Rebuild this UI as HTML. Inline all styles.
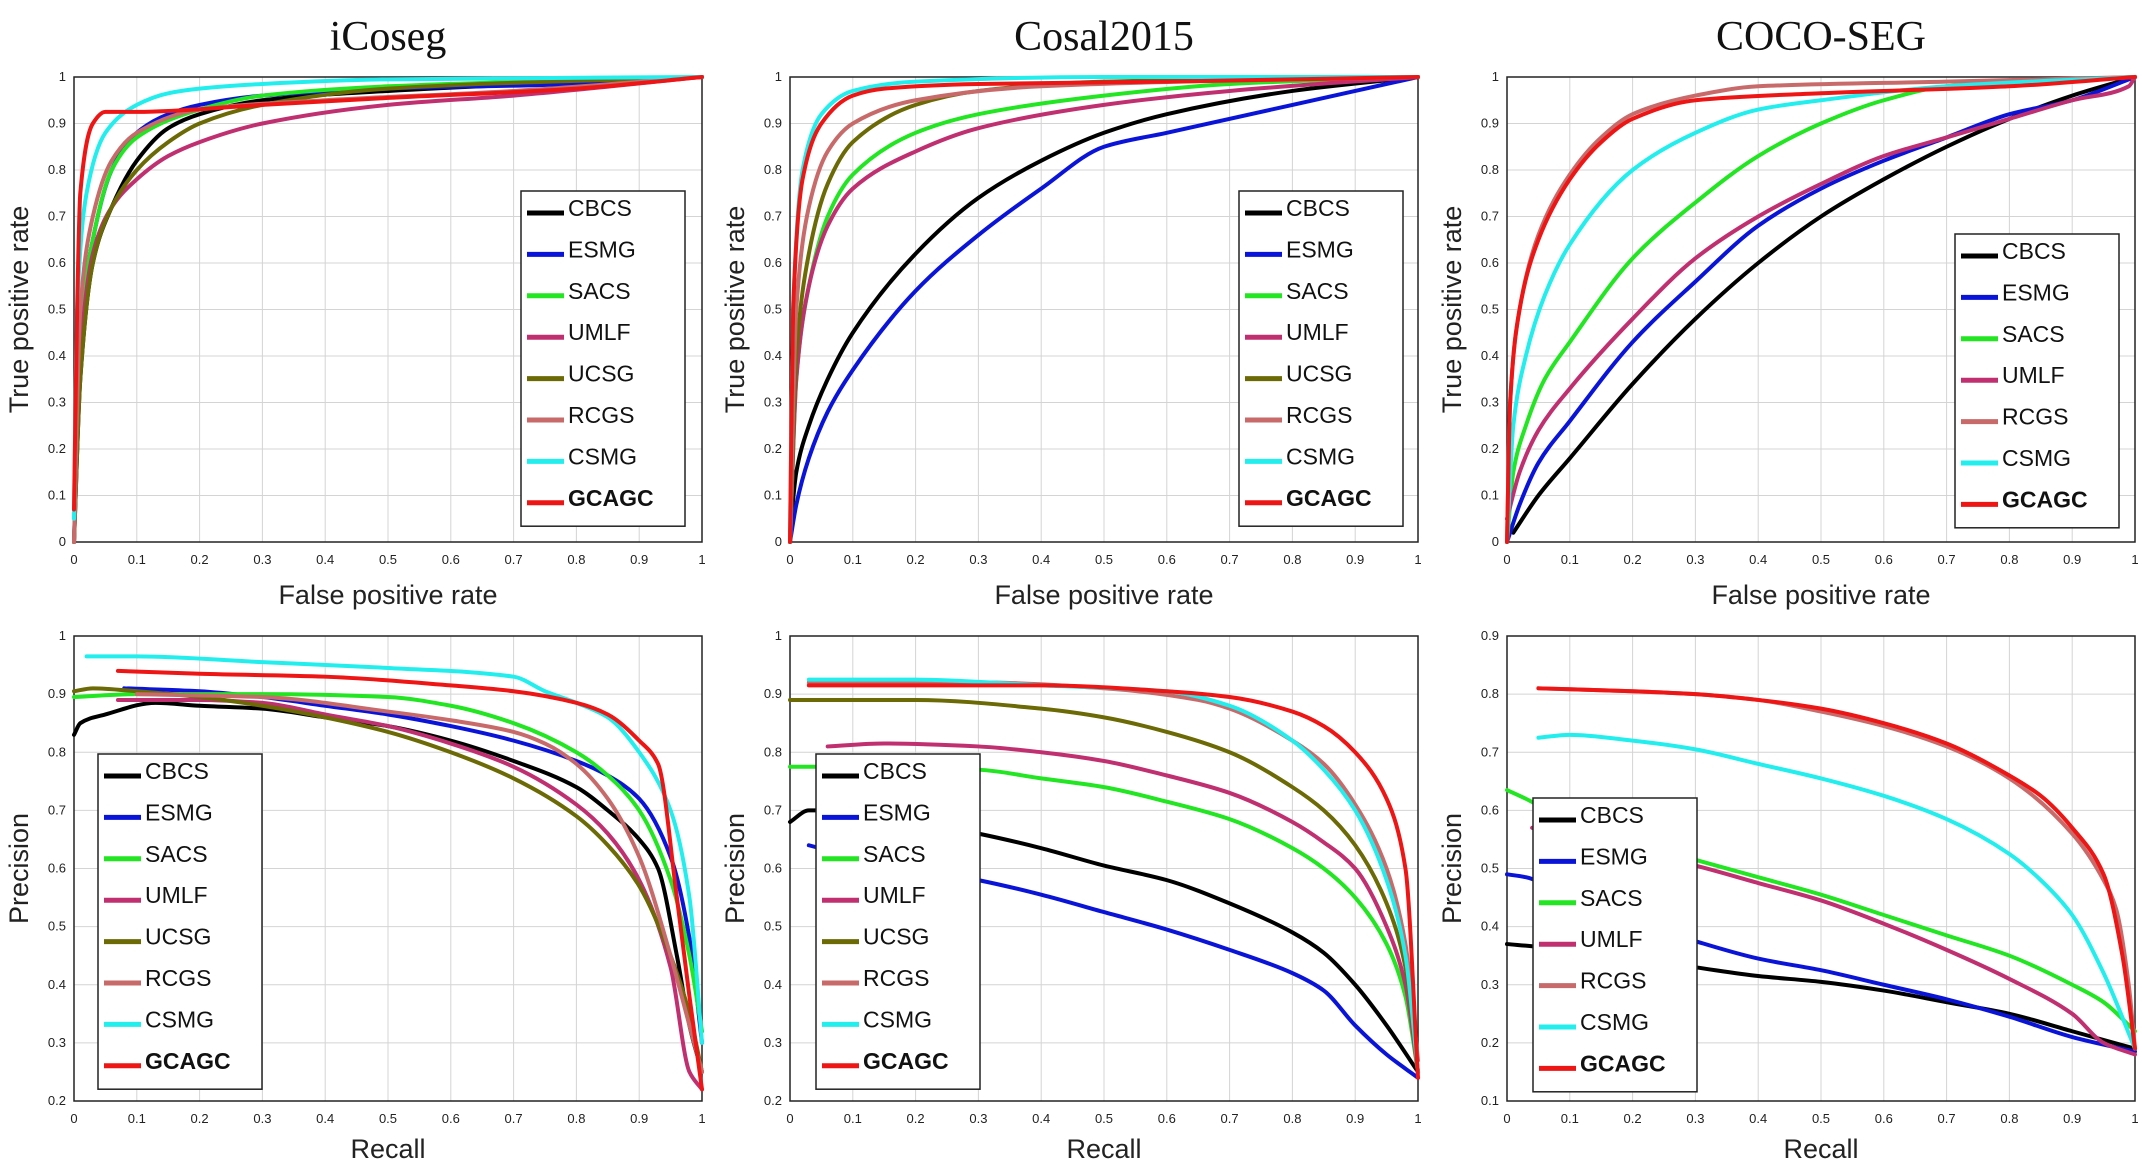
<!DOCTYPE html>
<html><head><meta charset="utf-8">
<style>
html,body{margin:0;padding:0;background:#fff;}
svg{display:block;}
</style></head>
<body>
<svg id="chart" width="2142" height="1176" xmlns="http://www.w3.org/2000/svg"></svg>
<script>
// ---------- DATA ----------
const methods = ["CBCS","ESMG","SACS","UMLF","UCSG","RCGS","CSMG","GCAGC"];
const methodColors = ["#000000","#0a14d8","#22e622","#c03070","#6b6a05","#c86a6a","#22eeee","#ee1515"];
const titles = ["iCoseg","Cosal2015","COCO-SEG"];
const xTicks = [0,0.1,0.2,0.3,0.4,0.5,0.6,0.7,0.8,0.9,1];
const yTicksTop = [0,0.1,0.2,0.3,0.4,0.5,0.6,0.7,0.8,0.9,1];
const yTicksPRa = [0.2,0.3,0.4,0.5,0.6,0.7,0.8,0.9,1];
const yTicksPRc = [0.1,0.2,0.3,0.4,0.5,0.6,0.7,0.8,0.9];

// ROC iCoseg
const rocIcosegCBCS=[[0,0],[0.01,0.35],[0.03,0.6],[0.06,0.72],[0.1,0.82],[0.15,0.89],[0.2,0.92],[0.3,0.95],[0.5,0.97],[1,1]];
const rocIcosegESMG=[[0,0],[0.01,0.45],[0.03,0.65],[0.06,0.8],[0.1,0.88],[0.15,0.92],[0.2,0.94],[0.3,0.96],[0.5,0.975],[0.8,0.985],[1,1]];
const rocIcosegSACS=[[0,0],[0.01,0.45],[0.03,0.65],[0.06,0.8],[0.1,0.87],[0.2,0.93],[0.3,0.96],[0.5,0.98],[1,1]];
const rocIcosegUMLF=[[0,0],[0.01,0.4],[0.03,0.62],[0.06,0.72],[0.1,0.78],[0.15,0.83],[0.2,0.86],[0.3,0.9],[0.5,0.94],[0.7,0.96],[1,1]];
const rocIcosegUCSG=[[0,0],[0.01,0.35],[0.03,0.6],[0.06,0.72],[0.1,0.8],[0.15,0.86],[0.2,0.9],[0.3,0.94],[0.5,0.975],[1,1]];
const rocIcosegRCGS=[[0,0],[0.01,0.5],[0.03,0.7],[0.06,0.82],[0.1,0.88],[0.2,0.93],[0.4,0.95],[0.7,0.97],[1,1]];
const rocIcosegCSMG=[[0,0.05],[0.005,0.5],[0.02,0.75],[0.05,0.88],[0.1,0.94],[0.15,0.965],[0.2,0.975],[0.3,0.985],[0.5,0.995],[1,1]];
const rocIcosegGCAGC=[[0,0.07],[0.005,0.5],[0.01,0.75],[0.03,0.9],[0.05,0.925],[0.1,0.925],[0.3,0.94],[0.5,0.955],[0.8,0.975],[1,1]];
// ROC Cosal2015
const rocCosalCBCS=[[0,0.02],[0.01,0.15],[0.03,0.25],[0.06,0.35],[0.1,0.45],[0.2,0.62],[0.3,0.74],[0.4,0.82],[0.5,0.88],[0.6,0.92],[0.8,0.97],[1,1]];
const rocCosalESMG=[[0,0],[0.01,0.08],[0.03,0.18],[0.06,0.28],[0.1,0.37],[0.2,0.54],[0.3,0.66],[0.4,0.76],[0.5,0.85],[0.6,0.88],[0.8,0.94],[1,1]];
const rocCosalSACS=[[0,0],[0.01,0.35],[0.03,0.55],[0.06,0.7],[0.1,0.79],[0.2,0.88],[0.3,0.92],[0.5,0.96],[0.7,0.985],[1,1]];
const rocCosalUMLF=[[0,0],[0.01,0.35],[0.03,0.55],[0.06,0.68],[0.1,0.76],[0.2,0.84],[0.3,0.89],[0.5,0.94],[0.7,0.97],[1,1]];
const rocCosalUCSG=[[0,0],[0.01,0.4],[0.03,0.62],[0.06,0.77],[0.1,0.86],[0.2,0.94],[0.3,0.97],[0.5,0.99],[1,1]];
const rocCosalRCGS=[[0,0],[0.01,0.5],[0.03,0.72],[0.06,0.84],[0.1,0.9],[0.2,0.95],[0.4,0.98],[1,1]];
const rocCosalCSMG=[[0,0],[0.005,0.5],[0.02,0.8],[0.05,0.92],[0.1,0.97],[0.2,0.99],[0.5,1],[1,1]];
const rocCosalGCAGC=[[0,0],[0.005,0.5],[0.02,0.78],[0.05,0.9],[0.1,0.96],[0.15,0.975],[0.3,0.985],[0.6,0.99],[1,1]];
// ROC COCO-SEG
const rocCocoCBCS=[[0.01,0.02],[0.05,0.1],[0.1,0.18],[0.2,0.34],[0.3,0.48],[0.4,0.6],[0.5,0.7],[0.6,0.78],[0.7,0.85],[0.8,0.91],[0.9,0.96],[1,1]];
const rocCocoESMG=[[0,0],[0.02,0.08],[0.05,0.17],[0.1,0.26],[0.2,0.43],[0.3,0.56],[0.4,0.68],[0.5,0.76],[0.6,0.82],[0.7,0.87],[0.8,0.92],[0.9,0.95],[1,1]];
const rocCocoSACS=[[0,0],[0.01,0.15],[0.03,0.25],[0.06,0.35],[0.1,0.43],[0.2,0.61],[0.3,0.73],[0.4,0.83],[0.5,0.9],[0.6,0.95],[0.7,0.98],[1,1]];
const rocCocoUMLF=[[0,0.05],[0.02,0.15],[0.05,0.24],[0.1,0.33],[0.2,0.48],[0.3,0.61],[0.4,0.7],[0.5,0.77],[0.6,0.83],[0.7,0.87],[0.8,0.91],[0.9,0.95],[0.99,0.98],[1,1]];
const rocCocoRCGS=[[0,0],[0.005,0.3],[0.02,0.5],[0.05,0.66],[0.1,0.79],[0.15,0.87],[0.2,0.92],[0.3,0.96],[0.4,0.98],[0.7,0.99],[1,1]];
const rocCocoCSMG=[[0,0],[0.01,0.25],[0.03,0.4],[0.06,0.53],[0.1,0.64],[0.2,0.8],[0.3,0.88],[0.4,0.93],[0.5,0.95],[0.7,0.98],[1,1]];
const rocCocoGCAGC=[[0,0],[0.005,0.3],[0.02,0.5],[0.05,0.65],[0.1,0.78],[0.15,0.86],[0.2,0.91],[0.3,0.95],[0.5,0.965],[0.8,0.98],[1,1]];
// PR iCoseg
const prIcosegCBCS=[[0,0.83],[0.01,0.85],[0.05,0.865],[0.13,0.885],[0.2,0.88],[0.3,0.875],[0.4,0.86],[0.5,0.845],[0.6,0.82],[0.7,0.785],[0.8,0.74],[0.85,0.7],[0.9,0.65],[0.93,0.6],[0.96,0.45],[0.98,0.33],[1,0.25]];
const prIcosegESMG=[[0.08,0.91],[0.2,0.905],[0.3,0.895],[0.4,0.88],[0.5,0.865],[0.6,0.845],[0.7,0.82],[0.8,0.785],[0.85,0.76],[0.9,0.72],[0.95,0.62],[0.98,0.48],[1,0.3]];
const prIcosegSACS=[[0,0.895],[0.1,0.9],[0.3,0.9],[0.5,0.895],[0.6,0.88],[0.7,0.85],[0.8,0.8],[0.85,0.76],[0.9,0.7],[0.95,0.58],[0.98,0.45],[1,0.32]];
const prIcosegUMLF=[[0.07,0.89],[0.2,0.89],[0.3,0.885],[0.4,0.865],[0.5,0.845],[0.6,0.815],[0.7,0.775],[0.8,0.71],[0.85,0.66],[0.9,0.58],[0.95,0.43],[0.98,0.25],[1,0.22]];
const prIcosegUCSG=[[0,0.905],[0.03,0.91],[0.1,0.905],[0.2,0.895],[0.3,0.88],[0.4,0.86],[0.5,0.835],[0.6,0.8],[0.7,0.755],[0.8,0.69],[0.85,0.64],[0.9,0.57],[0.95,0.45],[0.98,0.35],[1,0.25]];
const prIcosegRCGS=[[0.1,0.9],[0.3,0.895],[0.5,0.87],[0.6,0.855],[0.7,0.835],[0.75,0.815],[0.8,0.78],[0.85,0.72],[0.9,0.62],[0.95,0.45],[0.98,0.33],[1,0.25]];
const prIcosegCSMG=[[0.02,0.965],[0.1,0.965],[0.3,0.955],[0.5,0.945],[0.7,0.93],[0.75,0.905],[0.8,0.885],[0.85,0.86],[0.9,0.8],[0.95,0.7],[0.98,0.55],[1,0.3]];
const prIcosegGCAGC=[[0.07,0.94],[0.2,0.935],[0.4,0.93],[0.6,0.915],[0.7,0.905],[0.8,0.885],[0.85,0.865],[0.9,0.82],[0.93,0.78],[0.96,0.55],[0.98,0.38],[1,0.22]];
// PR Cosal2015
const prCosalCBCS=[[0,0.68],[0.03,0.7],[0.1,0.7],[0.2,0.68],[0.3,0.66],[0.4,0.635],[0.5,0.605],[0.6,0.58],[0.7,0.54],[0.8,0.49],[0.85,0.455],[0.9,0.4],[0.95,0.33],[1,0.25]];
const prCosalESMG=[[0.03,0.64],[0.1,0.62],[0.2,0.6],[0.3,0.58],[0.4,0.555],[0.5,0.525],[0.6,0.495],[0.7,0.46],[0.8,0.42],[0.85,0.39],[0.9,0.33],[0.95,0.28],[1,0.24]];
const prCosalSACS=[[0,0.775],[0.1,0.775],[0.3,0.77],[0.4,0.755],[0.5,0.74],[0.6,0.715],[0.7,0.685],[0.8,0.635],[0.85,0.6],[0.9,0.55],[0.95,0.47],[0.98,0.38],[1,0.25]];
const prCosalUMLF=[[0.06,0.81],[0.15,0.815],[0.3,0.81],[0.4,0.8],[0.5,0.785],[0.6,0.76],[0.7,0.73],[0.8,0.68],[0.85,0.645],[0.9,0.6],[0.95,0.5],[0.98,0.4],[1,0.25]];
const prCosalUCSG=[[0,0.89],[0.2,0.89],[0.4,0.875],[0.5,0.86],[0.6,0.835],[0.7,0.8],[0.8,0.74],[0.85,0.7],[0.9,0.64],[0.95,0.54],[0.98,0.43],[1,0.25]];
const prCosalRCGS=[[0.03,0.92],[0.3,0.92],[0.5,0.91],[0.65,0.89],[0.7,0.875],[0.8,0.82],[0.85,0.78],[0.9,0.71],[0.95,0.6],[0.98,0.47],[1,0.27]];
const prCosalCSMG=[[0.03,0.925],[0.2,0.925],[0.4,0.915],[0.6,0.905],[0.7,0.88],[0.8,0.82],[0.85,0.77],[0.9,0.7],[0.95,0.58],[0.98,0.45],[1,0.25]];
const prCosalGCAGC=[[0.03,0.915],[0.2,0.915],[0.4,0.915],[0.6,0.905],[0.7,0.895],[0.8,0.87],[0.85,0.845],[0.9,0.8],[0.95,0.72],[0.98,0.6],[1,0.24]];
// PR COCO-SEG
const prCocoCBCS=[[0,0.37],[0.05,0.365],[0.1,0.355],[0.2,0.345],[0.3,0.33],[0.4,0.315],[0.5,0.305],[0.6,0.29],[0.7,0.27],[0.8,0.25],[0.9,0.22],[1,0.19]];
const prCocoESMG=[[0,0.49],[0.03,0.485],[0.1,0.45],[0.2,0.41],[0.3,0.375],[0.4,0.345],[0.5,0.325],[0.6,0.3],[0.7,0.275],[0.8,0.245],[0.9,0.21],[1,0.185]];
const prCocoSACS=[[0,0.635],[0.03,0.62],[0.1,0.58],[0.2,0.545],[0.3,0.515],[0.4,0.485],[0.5,0.455],[0.6,0.42],[0.7,0.385],[0.8,0.35],[0.9,0.3],[0.95,0.27],[1,0.22]];
const prCocoUMLF=[[0.04,0.57],[0.1,0.55],[0.2,0.53],[0.3,0.505],[0.4,0.475],[0.5,0.445],[0.6,0.405],[0.7,0.36],[0.8,0.31],[0.9,0.25],[0.95,0.2],[1,0.18]];
const prCocoRCGS=[[0.05,0.81],[0.2,0.805],[0.3,0.8],[0.4,0.79],[0.5,0.77],[0.6,0.745],[0.7,0.71],[0.8,0.655],[0.9,0.56],[0.95,0.48],[0.97,0.43],[0.99,0.3],[1,0.19]];
const prCocoCSMG=[[0.05,0.725],[0.1,0.73],[0.2,0.72],[0.3,0.705],[0.4,0.68],[0.5,0.655],[0.6,0.625],[0.7,0.585],[0.8,0.525],[0.85,0.48],[0.9,0.42],[0.95,0.32],[1,0.19]];
const prCocoGCAGC=[[0.05,0.81],[0.2,0.805],[0.3,0.8],[0.4,0.79],[0.5,0.775],[0.6,0.75],[0.7,0.715],[0.8,0.66],[0.85,0.625],[0.9,0.57],[0.95,0.49],[0.98,0.35],[1,0.19]];

// ---------- DRAW ----------
const NS="http://www.w3.org/2000/svg";
const svg=document.getElementById('chart');
function mk(tag,attrs,parent){const e=document.createElementNS(NS,tag);for(const k in attrs)e.setAttribute(k,attrs[k]);(parent||svg).appendChild(e);return e;}

// monotone cubic (Fritsch-Carlson) path through pixel points
function monoPath(pts){
  const n=pts.length;if(n<2)return '';
  const dx=[],dy=[],m=[];
  for(let i=0;i<n-1;i++){dx.push(pts[i+1][0]-pts[i][0]);dy.push(pts[i+1][1]-pts[i][1]);m.push(dx[i]?dy[i]/dx[i]:0);}
  const t=[m[0]];
  for(let i=1;i<n-1;i++){t.push(m[i-1]*m[i]<=0?0:(dx[i-1]+dx[i])*3/((2*dx[i]+dx[i-1])/m[i-1]+(dx[i]+2*dx[i-1])/m[i]));}
  t.push(m[n-2]);
  let d='M'+pts[0][0]+','+pts[0][1];
  for(let i=0;i<n-1;i++){
    const h=dx[i]/3;
    d+=' C'+(pts[i][0]+h)+','+(pts[i][1]+h*t[i])+' '+(pts[i+1][0]-h)+','+(pts[i+1][1]-h*t[i+1])+' '+pts[i+1][0]+','+pts[i+1][1];
  }
  return d;
}

const colX=[[74,702],[790,1418],[1507,2135]];
const panels=[
 {row:0,col:0,y0:0,y1:1,yt:yTicksTop,series:[rocIcosegCBCS,rocIcosegESMG,rocIcosegSACS,rocIcosegUMLF,rocIcosegUCSG,rocIcosegRCGS,rocIcosegCSMG,rocIcosegGCAGC],leg:[521,191],key:'roc-icoseg'},
 {row:0,col:1,y0:0,y1:1,yt:yTicksTop,series:[rocCosalCBCS,rocCosalESMG,rocCosalSACS,rocCosalUMLF,rocCosalUCSG,rocCosalRCGS,rocCosalCSMG,rocCosalGCAGC],leg:[1239,191],key:'roc-cosal2015'},
 {row:0,col:2,y0:0,y1:1,yt:yTicksTop,series:[rocCocoCBCS,rocCocoESMG,rocCocoSACS,rocCocoUMLF,null,rocCocoRCGS,rocCocoCSMG,rocCocoGCAGC],leg:[1955,234],key:'roc-coco-seg'},
 {row:1,col:0,y0:0.2,y1:1,yt:yTicksPRa,series:[prIcosegCBCS,prIcosegESMG,prIcosegSACS,prIcosegUMLF,prIcosegUCSG,prIcosegRCGS,prIcosegCSMG,prIcosegGCAGC],leg:[98,754],key:'pr-icoseg'},
 {row:1,col:1,y0:0.2,y1:1,yt:yTicksPRa,series:[prCosalCBCS,prCosalESMG,prCosalSACS,prCosalUMLF,prCosalUCSG,prCosalRCGS,prCosalCSMG,prCosalGCAGC],leg:[816,754],key:'pr-cosal2015'},
 {row:1,col:2,y0:0.1,y1:0.9,yt:yTicksPRc,series:[prCocoCBCS,prCocoESMG,prCocoSACS,prCocoUMLF,null,prCocoRCGS,prCocoCSMG,prCocoGCAGC],leg:[1533,798],key:'pr-coco-seg'}
];
const rowY=[[77,542],[636,1101]];

panels.forEach(p=>{
  const [L,R]=colX[p.col];const [T,B]=rowY[p.row];
  const sx=v=>L+(R-L)*v;
  const sy=v=>B-(B-T)*(v-p.y0)/(p.y1-p.y0);
  const g=mk('g',{});
  
  
  mk('rect',{x:L,y:T,width:R-L,height:B-T,fill:'#fff'},g);
  xTicks.forEach(t=>{
    const l=mk('line',{x1:sx(t),x2:sx(t),y1:T,y2:B,stroke:'#d4d4d4','stroke-width':1},g);
    
    
    const tx=mk('text',{x:sx(t),y:B+22,'font-size':13,'font-family':'Liberation Sans Narrow, Liberation Sans, sans-serif','text-anchor':'middle',fill:'#222'},g);
    tx.textContent=String(t);
    
    
  });
  p.yt.forEach(t=>{
    const l=mk('line',{x1:L,x2:R,y1:sy(t),y2:sy(t),stroke:'#d4d4d4','stroke-width':1},g);
    
    
    const tx=mk('text',{x:L-8,y:sy(t)+4,'font-size':13,'font-family':'Liberation Sans Narrow, Liberation Sans, sans-serif','text-anchor':'end',fill:'#222'},g);
    tx.textContent=String(t);
    
    
  });
  mk('rect',{x:L,y:T,width:R-L,height:B-T,fill:'none',stroke:'#222','stroke-width':1.5},g);
  p.series.forEach((s,i)=>{
    if(!s)return;
    const pts=s.map(d=>[sx(d[0]),sy(d[1])]);
    const pl=mk('path',{d:monoPath(pts),fill:'none',stroke:methodColors[i],'stroke-width':4,'stroke-linejoin':'round','stroke-linecap':'round'},g);
    
    
  });
  const present=p.series.map((s,i)=>s?i:-1).filter(i=>i>=0);
  const lx=p.leg[0],ly=p.leg[1],lw=164,step=41.4;
  const lg=mk('g',{},g);
  
  
  mk('rect',{x:lx,y:ly,width:lw,height:present.length*step+4,fill:'#fff',stroke:'#222','stroke-width':1.5},lg);
  present.forEach((i,k)=>{
    const yy=ly+k*step;
    const ent=mk('g',{},lg);
    
    
    mk('line',{x1:lx+6,x2:lx+43,y1:yy+22,y2:yy+22,stroke:methodColors[i],'stroke-width':5},ent);
    const t=mk('text',{x:lx+47,y:yy+25,'font-size':23,'font-family':'Liberation Sans, sans-serif',fill:'#111','font-weight':methods[i]==='GCAGC'?'bold':'normal'},ent);
    t.textContent=methods[i];
  });
  const xl=mk('text',{x:(L+R)/2,y:p.row?1158:604,'font-size':27,'font-family':'Liberation Sans, sans-serif','text-anchor':'middle',fill:'#222'},g);
  xl.textContent=p.row?'Recall':'False positive rate';
  
  
  const cy=(T+B)/2, cx=L-46;
  const yl=mk('text',{x:cx,y:cy,'font-size':27,'font-family':'Liberation Sans, sans-serif','text-anchor':'middle',fill:'#222',transform:`rotate(-90 ${cx} ${cy})`},g);
  yl.textContent=p.row?'Precision':'True positive rate';
  
  
  if(p.row===0){
    const tt=mk('text',{x:(L+R)/2,y:50,'font-size':42,'font-family':'Liberation Serif, serif','text-anchor':'middle',fill:'#111'},g);
    tt.textContent=titles[p.col];
    
    
  }
});
</script>
</body></html>
